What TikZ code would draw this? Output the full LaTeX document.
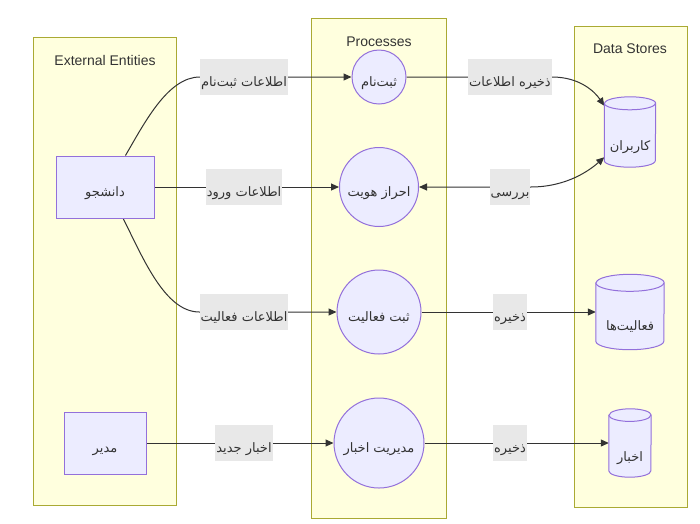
\documentclass[tikz,border=0pt]{standalone}
\usepackage{fontspec}
\setmainfont{Liberation Sans}
\newfontfamily\arabicfont[Script=Arabic]{DejaVu Sans}
\TeXXeTstate=1
\usetikzlibrary{arrows.meta}
\newcommand\fa[1]{{\arabicfont\beginR #1\endR}}
\definecolor{clfill}{HTML}{FFFFDE}
\definecolor{cldraw}{HTML}{AAAA33}
\definecolor{ndfill}{HTML}{ECECFF}
\definecolor{nddraw}{HTML}{9370DB}
\definecolor{lbfill}{HTML}{E8E8E8}
\definecolor{ink}{HTML}{333333}
\pgfdeclarelayer{clusters}
\pgfdeclarelayer{edges}
\pgfsetlayers{clusters,edges,main}
\newcommand\drawstore[3]{%
  \draw[store] ([yshift=-#3pt]#1.north west) -- ([yshift=#3pt]#1.south west)
    arc[start angle=180,end angle=360,x radius=#2pt,y radius=#3pt]
    -- ([yshift=-#3pt]#1.north east)
    arc[start angle=0,end angle=180,x radius=#2pt,y radius=#3pt] -- cycle;
  \draw[store] ([yshift=-#3pt]#1.north west)
    arc[start angle=180,end angle=360,x radius=#2pt,y radius=#3pt];
}
\tikzset{
  cluster/.style={draw=cldraw,fill=clfill,line width=1pt},
  ctitle/.style={anchor=base,text=ink,font=\fontsize{14}{16}\selectfont},
  ent/.style={rectangle,draw=nddraw,fill=ndfill,line width=1pt,inner sep=0pt,text=ink,text height=18pt,text depth=0pt},
  proc/.style={circle,draw=nddraw,fill=ndfill,line width=1pt,inner sep=0pt,text=ink,text height=18pt,text depth=0pt},
  storebox/.style={rectangle,draw=none,inner sep=0pt,text=ink,text height=36pt,text depth=0pt},
  store/.style={draw=nddraw,fill=ndfill,line width=1pt},
  elabel/.style={rectangle,fill=lbfill,inner xsep=1pt,inner ysep=0pt,text=ink,text height=27pt,text depth=9pt},
  edge/.style={draw=ink,line width=1pt,-{Triangle[length=8pt,width=7pt]}},
  edgeboth/.style={draw=ink,line width=1pt,{Triangle[length=8pt,width=7pt]}-{Triangle[length=8pt,width=7pt]}},
}
\begin{document}
\begin{tikzpicture}[x=1pt,y=-1pt,font=\fontsize{13}{15}\selectfont]
\useasboundingbox (0,0) rectangle (700,523);
\begin{pgfonlayer}{clusters}
\draw[cluster] (33,37) rectangle (176,505);
\draw[cluster] (311,18) rectangle (446,518);
\draw[cluster] (574,26) rectangle (687,507);
\end{pgfonlayer}
\node[ctitle] (tExt) at (105,65) {External Entities};
\node[ctitle] (tProc) at (379,46) {Processes};
\node[ctitle] (tStore) at (630,53) {Data Stores};
% entities
\node[ent,minimum width=98pt,minimum height=62pt] (stu) at (105,187) {\fa{دانشجو}};
\node[ent,minimum width=82pt,minimum height=62pt] (adm) at (105,443) {\fa{مدیر}};
% processes
\node[proc,minimum size=54pt] (reg) at (379,77) {\fa{ثبت‌نام}};
\node[proc,minimum size=79pt] (auth) at (379,187) {\fa{احراز هویت}};
\node[proc,minimum size=84pt] (act) at (379,312) {\fa{ثبت فعالیت}};
\node[proc,minimum size=90pt] (news) at (379,443) {\fa{مدیریت اخبار}};
% stores
\node[storebox,minimum width=51pt,minimum height=70pt] (users) at (630,132) {};
\node[storebox,minimum width=68pt,minimum height=75pt] (acts) at (630,312) {};
\node[storebox,minimum width=42pt,minimum height=68pt] (newsdb) at (630,443) {};
\drawstore{users}{25.5}{6.5}
\drawstore{acts}{34}{8.5}
\drawstore{newsdb}{21}{6.3}
\node[storebox] (usersT) at (users.center) {\fa{کاربران}};
\node[storebox] (actsT) at (acts.center) {\fa{فعالیت‌ها}};
\node[storebox] (newsdbT) at (newsdb.center) {\fa{اخبار}};
% edge labels
\node[elabel] (l1) at (244,77) {\fa{اطلاعات ثبت‌نام}};
\node[elabel] (l2) at (244,187) {\fa{اطلاعات ورود}};
\node[elabel] (l3) at (244,312) {\fa{اطلاعات فعالیت}};
\node[elabel] (l4) at (244,443) {\fa{اخبار جدید}};
\node[elabel] (l5) at (510,77) {\fa{ذخیره اطلاعات}};
\node[elabel] (l6) at (510,187) {\fa{بررسی}};
\node[elabel] (l7) at (510,312) {\fa{ذخیره}};
\node[elabel] (l8) at (510,443) {\fa{ذخیره}};
% edges
\begin{pgfonlayer}{edges}
\draw[edge] (stu.57) .. controls (145,122) and (168,77) .. (l1.west) -- (reg);
\draw[edge] (stu) -- (auth);
\draw[edge] (stu.-60) .. controls (143,258) and (165,312) .. (l3.west) -- (act);
\draw[edge] (adm) -- (news);
\draw[edge] (reg) -- (l5.east) .. controls (580,77) and (595,92) .. ([yshift=-9pt]users.north west);
\draw[edgeboth] (auth) -- (l6.east) .. controls (567,187) and (590,170) .. ([yshift=10pt]users.south west);
\draw[edge] (act) -- (acts);
\draw[edge] (news) -- (newsdb);
\end{pgfonlayer}
\end{tikzpicture}
\end{document}
